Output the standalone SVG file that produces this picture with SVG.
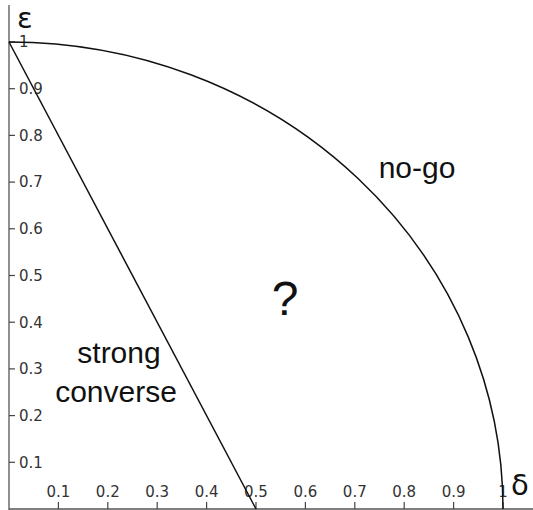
<svg xmlns="http://www.w3.org/2000/svg" width="533" height="510" viewBox="0 0 533 510">
<style>
.axis{stroke:#555;stroke-width:1.3;fill:none}
.tick{stroke:#444;stroke-width:1.2}
.curve{stroke:#111;stroke-width:1.5;fill:none}
.tl{font-family:"DejaVu Sans",sans-serif;font-size:15px;fill:#333}
.tx{text-anchor:middle}
.lab{font-family:"Liberation Sans",Arial,sans-serif;font-size:30px;fill:#111;text-anchor:middle}
.q{font-size:48px}
.sym{font-family:"DejaVu Sans",sans-serif;font-size:29px;fill:#111}
</style>
<rect width="533" height="510" fill="#fff"/>
<g id="axes">
<line class="axis" x1="9" y1="5" x2="9" y2="510"/>
<line class="axis" x1="9" y1="509" x2="533" y2="509"/>
</g>
<g id="yticks">
<line class="tick" x1="9" y1="462.3" x2="15" y2="462.3"/>
<line class="tick" x1="9" y1="415.6" x2="15" y2="415.6"/>
<line class="tick" x1="9" y1="368.9" x2="15" y2="368.9"/>
<line class="tick" x1="9" y1="322.2" x2="15" y2="322.2"/>
<line class="tick" x1="9" y1="275.5" x2="15" y2="275.5"/>
<line class="tick" x1="9" y1="228.8" x2="15" y2="228.8"/>
<line class="tick" x1="9" y1="182.1" x2="15" y2="182.1"/>
<line class="tick" x1="9" y1="135.4" x2="15" y2="135.4"/>
<line class="tick" x1="9" y1="88.7" x2="15" y2="88.7"/>
<line class="tick" x1="9" y1="42" x2="15" y2="42"/>
<text class="tl" x="19" y="467.6">0.1</text>
<text class="tl" x="19" y="420.9">0.2</text>
<text class="tl" x="19" y="374.2">0.3</text>
<text class="tl" x="19" y="327.5">0.4</text>
<text class="tl" x="19" y="280.8">0.5</text>
<text class="tl" x="19" y="234.1">0.6</text>
<text class="tl" x="19" y="187.4">0.7</text>
<text class="tl" x="19" y="140.7">0.8</text>
<text class="tl" x="19" y="94">0.9</text>
<text class="tl" x="19" y="47.3">1</text>
</g>
<g id="xticks">
<line class="tick" x1="58.4" y1="509" x2="58.4" y2="502"/>
<line class="tick" x1="107.8" y1="509" x2="107.8" y2="502"/>
<line class="tick" x1="157.2" y1="509" x2="157.2" y2="502"/>
<line class="tick" x1="206.6" y1="509" x2="206.6" y2="502"/>
<line class="tick" x1="256" y1="509" x2="256" y2="502"/>
<line class="tick" x1="305.4" y1="509" x2="305.4" y2="502"/>
<line class="tick" x1="354.8" y1="509" x2="354.8" y2="502"/>
<line class="tick" x1="404.2" y1="509" x2="404.2" y2="502"/>
<line class="tick" x1="453.6" y1="509" x2="453.6" y2="502"/>
<line class="tick" x1="503" y1="509" x2="503" y2="502"/>
<text class="tl tx" x="58.4" y="497">0.1</text>
<text class="tl tx" x="107.8" y="497">0.2</text>
<text class="tl tx" x="157.2" y="497">0.3</text>
<text class="tl tx" x="206.6" y="497">0.4</text>
<text class="tl tx" x="256" y="497">0.5</text>
<text class="tl tx" x="305.4" y="497">0.6</text>
<text class="tl tx" x="354.8" y="497">0.7</text>
<text class="tl tx" x="404.2" y="497">0.8</text>
<text class="tl tx" x="453.6" y="497">0.9</text>
<text class="tl tx" x="503" y="497">1</text>
</g>
<g id="curves">
<path class="curve" d="M 9 42 A 494 467 0 0 1 503 509"/>
<line class="curve" x1="9" y1="42" x2="256" y2="509"/>
</g>
<g id="labels">
<text class="sym" x="17" y="28">ε</text>
<text class="sym" x="511" y="495">δ</text>
<text class="lab" x="417" y="178">no-go</text>
<text class="lab q" x="285" y="315">?</text>
<text class="lab" x="119" y="363">strong</text>
<text class="lab" x="116" y="402">converse</text>
</g>
</svg>
